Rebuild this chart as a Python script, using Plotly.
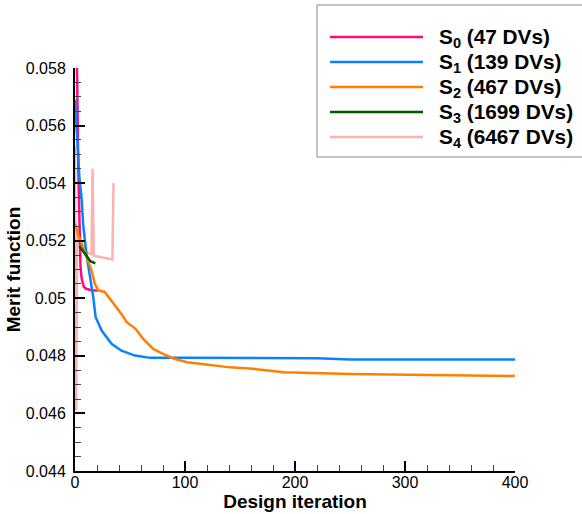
import plotly.graph_objects as go

# ---------------- data ----------------
names = ["S<sub>0</sub> (47 DVs)", "S<sub>1</sub> (139 DVs)", "S<sub>2</sub> (467 DVs)",
         "S<sub>3</sub> (1699 DVs)", "S<sub>4</sub> (6467 DVs)"]
colors = ["#FF0A80", "#0A82FF", "#FF8000", "#005A00", "#FFB0B0"]

s0_x = [0, 1, 2, 3, 4, 5, 6, 8, 10, 15, 21]
s0_y = [0.0620, 0.0600, 0.0575, 0.0545, 0.0520, 0.0511, 0.0507, 0.0504, 0.05033, 0.05028, 0.05027]

s1_x = [0, 1, 2, 4, 6, 7.5, 10.5, 12.7, 16.6, 18.7, 24.2, 33.2, 42.3, 54.5, 68.4, 100, 220, 250, 400]
s1_y = [0.0569, 0.0562, 0.0553, 0.0542, 0.05347, 0.05254, 0.0515, 0.05097, 0.05004, 0.04935,
        0.04888, 0.04842, 0.04818, 0.04801, 0.04793, 0.04793, 0.04792, 0.04787, 0.04787]

s2_x = [0, 3, 6, 10, 13, 15, 18, 21, 27, 33, 42, 47, 55, 62, 71, 80, 90, 102, 120, 141, 162,
        190, 250, 295, 400]
s2_y = [0.0526, 0.0522, 0.0519, 0.0515, 0.0512, 0.05097, 0.05051, 0.05028, 0.05022, 0.04993,
        0.04946, 0.04917, 0.04894, 0.04859, 0.04824, 0.04807, 0.0479, 0.04778, 0.04769, 0.0476,
        0.04755, 0.04743, 0.04737, 0.04735, 0.0473]

s3_x = [4, 6, 10, 14, 18.5]
s3_y = [0.05181, 0.0517, 0.0515, 0.05129, 0.05121]

s4_x = [0, 1, 2, 4, 6, 10, 14, 15, 16, 17, 25, 34, 35]
s4_y = [0.0553, 0.0461, 0.0524, 0.0521, 0.0519, 0.0516, 0.05155, 0.0515, 0.0545, 0.05148,
        0.05142, 0.05135, 0.0540]

xs = [s0_x, s1_x, s2_x, s3_x, s4_x]
ys = [s0_y, s1_y, s2_y, s3_y, s4_y]

y_tickvals = [0.044, 0.046, 0.048, 0.05, 0.052, 0.054, 0.056, 0.058]
y_ticktext = ["0.044", "0.046", "0.048", "0.05", "0.052", "0.054", "0.056", "0.058"]
x_tickvals = [0, 100, 200, 300, 400]

FONT = "Liberation Sans, Arial, sans-serif"

fig = go.Figure()
order = [4, 0, 1, 2, 3]
for i in order:
    fig.add_trace(go.Scatter(x=xs[i], y=ys[i], mode="lines", name=names[i],
                             line=dict(color=colors[i], width=2.5), showlegend=False))

W, H = 582, 514
ml, mr, mt, mb = 75, 67, 68, 43
pw, ph = W - ml - mr, H - mt - mb

def px2paper(px, py):
    return (px - ml) / pw, (H - mb - py) / ph

shapes = []
annotations = []
# legend box
x0, y0 = px2paper(317, 157)
x1, y1 = px2paper(590, 5)
shapes.append(dict(type="rect", xref="paper", yref="paper", x0=x0, y0=y0, x1=x1, y1=y1,
                   line=dict(color="#8a8a8a", width=1), fillcolor="white", layer="above"))
for k, (nm, c) in enumerate(zip(names, colors)):
    ry = 37 + 25 * k
    lx0, ly = px2paper(330, ry)
    lx1, _ = px2paper(423, ry)
    shapes.append(dict(type="line", xref="paper", yref="paper", x0=lx0, x1=lx1, y0=ly, y1=ly,
                       line=dict(color=c, width=2.5), layer="above"))
    tx, ty = px2paper(437, ry + 1)
    annotations.append(dict(xref="paper", yref="paper", x=tx, y=ty, xanchor="left",
                            yanchor="middle", showarrow=False, text="<b>" + nm + "</b>",
                            font=dict(family=FONT, size=20.8, color="black")))

fig.update_layout(
    width=W, height=H,
    margin=dict(l=ml, r=mr, t=mt, b=mb),
    paper_bgcolor="white", plot_bgcolor="white",
    font=dict(family=FONT, size=16, color="black"),
    shapes=shapes, annotations=annotations,
    xaxis=dict(range=[0, 400], tickvals=x_tickvals, showgrid=False, zeroline=False,
               automargin=False,
               showline=True, linecolor="black", linewidth=2,
               ticks="inside", ticklen=10, tickwidth=2, tickcolor="black",
               minor=dict(tickmode="linear", tick0=0, dtick=20, ticks="inside", ticklen=6,
                          tickwidth=1, tickcolor="#444"),
               tickfont=dict(size=16), ticklabelstandoff=-4,
               title=dict(text="<b>Design iteration</b>", font=dict(size=19), standoff=0)),
    yaxis=dict(range=[0.044, 0.058], tickvals=y_tickvals, ticktext=y_ticktext,
               showgrid=False, zeroline=False, automargin=False,
               showline=True, linecolor="black", linewidth=2,
               ticks="inside", ticklen=10, tickwidth=2, tickcolor="black",
               minor=dict(tickmode="linear", tick0=0.044, dtick=0.0005, ticks="inside",
                          ticklen=6, tickwidth=1, tickcolor="#444"),
               tickfont=dict(size=16), ticklabelstandoff=4,
               title=dict(text="<b>Merit function</b>", font=dict(size=19), standoff=0)),
)

fig.write_html("out.html")
